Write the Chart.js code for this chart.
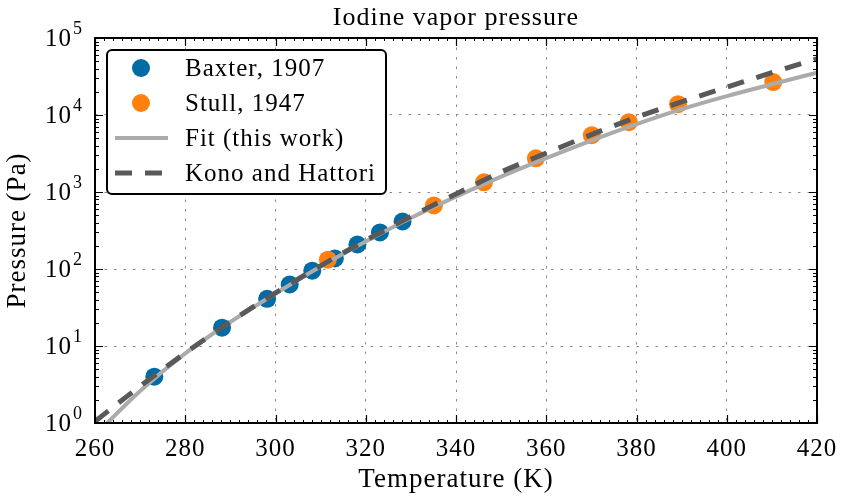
<!DOCTYPE html>
<html>
<head>
<meta charset="utf-8">
<title>Iodine vapor pressure</title>
<script src="https://cdn.jsdelivr.net/npm/chart.js@4.4.1/dist/chart.umd.min.js"></script>
<style>
  html, body { margin: 0; padding: 0; background: #fff; }
  #wrap { width: 842px; height: 498px; }
</style>
</head>
<body>
<div id="wrap"><canvas id="vp"></canvas></div>
<script>
// Baxter (1907) measurements, K / Pa
var baxterT = [273.15, 288.15, 298.15, 303.15, 308.15, 313.15, 318.15, 323.15, 328.15];
var baxterP = [4.0, 17.3, 41, 63, 95, 137, 208, 298, 414];

// Stull (1947) measurements, K / Pa
var stullT = [311.6, 335.1, 346.2, 357.7, 370.1, 378.3, 389.2, 410.3];
var stullP = [132, 670, 1334, 2740, 5460, 8060, 13830, 26730];

// our fit
var fitT = [262.7, 270, 280, 290, 300, 310, 320, 330, 340, 350, 360, 370, 380, 390, 400, 410, 420];
var fitP = [1.0, 2.6, 8.0, 20.5, 48, 108, 228, 460, 870, 1580, 2750, 4650, 7600, 11900, 17600, 25100, 35500];

// Kono and Hattori correlation
var konoT = [260, 270, 280, 290, 300, 310, 320, 330, 340, 350, 360, 370, 380, 390, 400, 410, 420];
var konoP = [1.05, 3.0, 8.1, 20.6, 49, 110, 235, 481, 944, 1815, 3200, 5560, 9330, 14800, 22900, 35500, 53700];

var xTicks = [260, 280, 300, 320, 340, 360, 380, 400, 420];
var yDecades = [0, 1, 2, 3, 4, 5];

var FONT = '"Liberation Serif", "Times New Roman", serif';

function pairs(xs, ys) {
  return xs.map(function (x, i) { return { x: x, y: ys[i] }; });
}

// frame, inward ticks, y labels with exponents, title, legend
var decor = {
  id: 'decor',
  beforeDraw: function (chart) {
    chart.ctx.letterSpacing = '1px';
  },
  afterDraw: function (chart) {
    var ctx = chart.ctx;
    var a = chart.chartArea;
    var xs = chart.scales.x, ys = chart.scales.y;
    var i, d, px, py;

    ctx.save();
    ctx.strokeStyle = '#000';

    // minor / major ticks on x (top and bottom)
    for (i = 260; i <= 420; i += 2) {
      px = Math.round(xs.getPixelForValue(i)) + 0.5;
      var len = (i % 20 === 0) ? 8 : 3;
      ctx.lineWidth = (i % 20 === 0) ? 1.2 : 1;
      ctx.beginPath();
      ctx.moveTo(px, a.bottom); ctx.lineTo(px, a.bottom - len);
      ctx.moveTo(px, a.top); ctx.lineTo(px, a.top + len);
      ctx.stroke();
    }

    // log ticks on y (left and right)
    for (d = 0; d < 5; d++) {
      for (i = 1; i <= 9; i++) {
        py = Math.round(ys.getPixelForValue(i * Math.pow(10, d))) + 0.5;
        var l = (i === 1) ? 8 : 4;
        ctx.lineWidth = (i === 1) ? 1.2 : 1;
        ctx.beginPath();
        ctx.moveTo(a.left, py); ctx.lineTo(a.left + l, py);
        ctx.moveTo(a.right, py); ctx.lineTo(a.right - l, py);
        ctx.stroke();
      }
    }

    // frame
    ctx.lineWidth = 2;
    ctx.strokeRect(a.left, a.top, a.right - a.left, a.bottom - a.top);

    // y labels: 10^n
    ctx.fillStyle = '#000';
    ctx.textBaseline = 'alphabetic';
    yDecades.forEach(function (e) {
      py = ys.getPixelForValue(Math.pow(10, e));
      ctx.font = '25px ' + FONT;
      ctx.textAlign = 'right';
      ctx.fillText('10', 72, py + 8);
      ctx.font = '18px ' + FONT;
      ctx.textAlign = 'left';
      ctx.fillText(String(e), 73, py - 4);
    });

    // title
    ctx.font = '26px ' + FONT;
    ctx.textAlign = 'center';
    ctx.fillText('Iodine vapor pressure', (a.left + a.right) / 2, 25);

    // legend
    var bx = a.left + 12, by = a.top + 12, bw = 279, bh = 144;
    ctx.beginPath();
    ctx.roundRect(bx, by, bw, bh, 5);
    ctx.fillStyle = '#fff';
    ctx.fill();
    ctx.lineWidth = 2;
    ctx.strokeStyle = '#000';
    ctx.stroke();

    var rows = chart.data.datasets;
    ctx.font = '25px ' + FONT;
    ctx.textAlign = 'left';
    ctx.textBaseline = 'middle';
    rows.forEach(function (ds, k) {
      var ry = by + 18 + k * 35;
      var cx = bx + 34;
      if (ds.showLine) {
        ctx.save();
        ctx.strokeStyle = ds.borderColor;
        ctx.lineWidth = ds.borderWidth;
        ctx.setLineDash(ds.borderDash || []);
        ctx.beginPath();
        ctx.moveTo(cx - 26, ry); ctx.lineTo(cx + 27, ry);
        ctx.stroke();
        ctx.restore();
      } else {
        ctx.beginPath();
        ctx.arc(cx, ry, ds.pointRadius, 0, Math.PI * 2);
        ctx.fillStyle = ds.backgroundColor;
        ctx.fill();
      }
      ctx.fillStyle = '#000';
      ctx.fillText(ds.label, bx + 78, ry + 1);
    });

    ctx.restore();
  }
};

new Chart(document.getElementById('vp').getContext('2d'), {
  type: 'scatter',
  data: {
    datasets: [{
      label: 'Baxter, 1907',
      data: pairs(baxterT, baxterP),
      backgroundColor: '#006BA4',
      borderWidth: 0,
      pointRadius: 9,
      pointHoverRadius: 9,
      showLine: false,
      order: 4
    }, {
      label: 'Stull, 1947',
      data: pairs(stullT, stullP),
      backgroundColor: '#FF800E',
      borderWidth: 0,
      pointRadius: 9,
      pointHoverRadius: 9,
      showLine: false,
      order: 3
    }, {
      label: 'Fit (this work)',
      data: pairs(fitT, fitP),
      borderColor: '#ABABAB',
      borderWidth: 4,
      pointRadius: 0,
      showLine: true,
      cubicInterpolationMode: 'monotone',
      order: 2
    }, {
      label: 'Kono and Hattori',
      data: pairs(konoT, konoP),
      borderColor: '#595959',
      borderWidth: 5,
      borderDash: [17, 13],
      pointRadius: 0,
      showLine: true,
      cubicInterpolationMode: 'monotone',
      order: 1
    }]
  },
  options: {
    responsive: true,
    maintainAspectRatio: false,
    animation: false,
    events: [],
    layout: {
      padding: { top: 38, right: 25, left: 0, bottom: 0 }
    },
    plugins: {
      legend: { display: false },
      tooltip: { enabled: false }
    },
    scales: {
      x: {
        type: 'linear',
        min: 260,
        max: 420,
        afterBuildTicks: function (s) {
          s.ticks = xTicks.map(function (v) { return { value: v }; });
        },
        afterFit: function (s) {
          s.height = 75;
          s.paddingLeft = 0;
          s.paddingRight = 0;
        },
        grid: {
          color: '#8a8a8a',
          lineWidth: 1,
          drawTicks: false
        },
        border: { display: false, dash: [2.5, 7] },
        ticks: {
          color: '#000',
          padding: 11,
          maxRotation: 0,
          font: { family: FONT, size: 25 }
        },
        title: {
          display: true,
          text: 'Temperature (K)',
          color: '#000',
          padding: { top: 0, bottom: 2 },
          font: { family: FONT, size: 27 }
        }
      },
      y: {
        type: 'logarithmic',
        min: 1,
        max: 100000,
        afterBuildTicks: function (s) {
          s.ticks = yDecades.map(function (e) { return { value: Math.pow(10, e), major: true }; });
        },
        afterFit: function (s) {
          s.width = 95;
          s.paddingTop = 0;
          s.paddingBottom = 0;
        },
        grid: {
          color: '#8a8a8a',
          lineWidth: 1,
          drawTicks: false
        },
        border: { display: false, dash: [2.5, 7] },
        ticks: { display: false },
        title: {
          display: true,
          text: 'Pressure (Pa)',
          color: '#000',
          padding: { top: 2, bottom: 0 },
          font: { family: FONT, size: 27 }
        }
      }
    }
  },
  plugins: [decor]
});
</script>
</body>
</html>
